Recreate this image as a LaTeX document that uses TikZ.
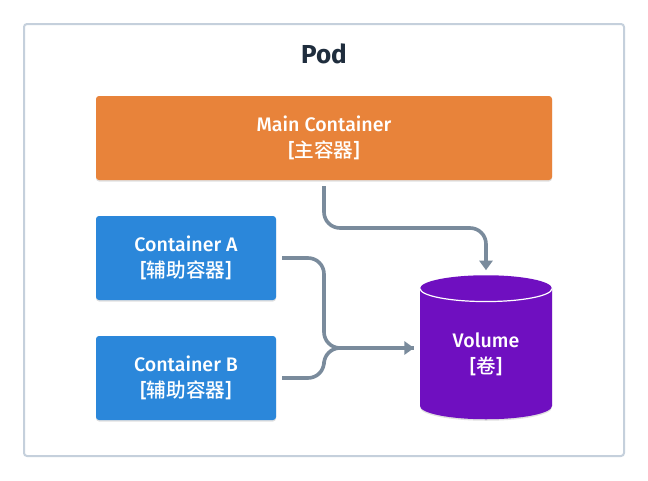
\documentclass[tikz,border=0pt]{standalone}
\usepackage{fontspec}
\setmainfont{Fira Sans Medium}[BoldFont=Fira Sans Bold]
\newfontfamily\cjk{Noto Sans CJK SC Medium}
\usetikzlibrary{positioning,calc,arrows,arrows.meta,shapes.geometric,shadows}
\definecolor{podline}{HTML}{C5D0DC}
\definecolor{podtext}{HTML}{1F2D3D}
\definecolor{mainfill}{HTML}{E8833A}
\definecolor{sidefill}{HTML}{2B87DA}
\definecolor{volfill}{HTML}{6F0FC0}
\definecolor{flowline}{HTML}{7A8B9C}
\tikzset{
	box/.style={rounded corners=3pt, text=white, align=center, font=\fontsize{19.6}{26}\selectfont,
		drop shadow={shadow xshift=0pt, shadow yshift=-1.5pt, opacity=0.12, fill=black}},
	flow/.style={draw=flowline, line width=3.6pt, rounded corners=16pt, -{Triangle[length=9.5pt, width=13pt]}},
	link/.style={draw=flowline, line width=3.6pt, rounded corners=16pt},
}

\begin{document}
\begin{tikzpicture}[x=1pt, y=-1pt]
	\useasboundingbox (0, 0) rectangle (648, 480);
	\fill[white] (0, 0) rectangle (648, 480);
	\node (pod) [draw=podline, line width=2pt, rounded corners=3pt, minimum width=600pt, minimum height=432pt, inner sep=0pt, fill=white] at (324, 240) {};
	\node (podlabel) [text=podtext, font=\fontsize{26}{28}\selectfont\bfseries] at (324, 54) {Pod};

	\node (main) [box, fill=mainfill, minimum width=456pt, minimum height=84pt] at (324, 138) {Main Container\\{}[{\cjk 主容器}]};
	\node (conta) [box, fill=sidefill, minimum width=180pt, minimum height=84pt] at (186, 258) {Container A\\{}[{\cjk 辅助容器}]};
	\node (contb) [box, fill=sidefill, minimum width=180pt, minimum height=84pt] at (186, 378) {Container B\\{}[{\cjk 辅助容器}]};
	\node (vol) [cylinder, shape border rotate=90, aspect=0.4, fill=volfill, text=white, align=center, font=\fontsize{19.6}{26}\selectfont,
		minimum width=132pt, minimum height=144pt, inner sep=0pt, outer sep=0pt,
		drop shadow={shadow xshift=0pt, shadow yshift=-1.5pt, opacity=0.12, fill=black}] at (486, 354) {Volume\\{}[{\cjk 卷}]};
	\draw[white, line width=1.2pt] (vol.before top) arc[start angle=180, end angle=360, x radius=66pt, y radius=13pt];

	\coordinate (mainout) at ($(main.south)+(0pt,-6pt)$);
	\coordinate (volin) at ($(vol.west |- main.south)+(66pt,-90pt)$);
	\coordinate (bend) at (405, 228);
	\coordinate (aout) at ($(conta.east)+(6pt,0pt)$);
	\coordinate (bout) at ($(contb.east)+(6pt,0pt)$);
	\coordinate (join) at (324, 348);
	\coordinate (volside) at ($(vol.west)+(-6pt,6pt)$);

	\draw[flow] (mainout) |- (bend) -| (volin);
	\draw[link] (aout) -| (join) -- (volside);
	\draw[flow] (bout) -| (join) -- (volside);
\end{tikzpicture}
\end{document}
